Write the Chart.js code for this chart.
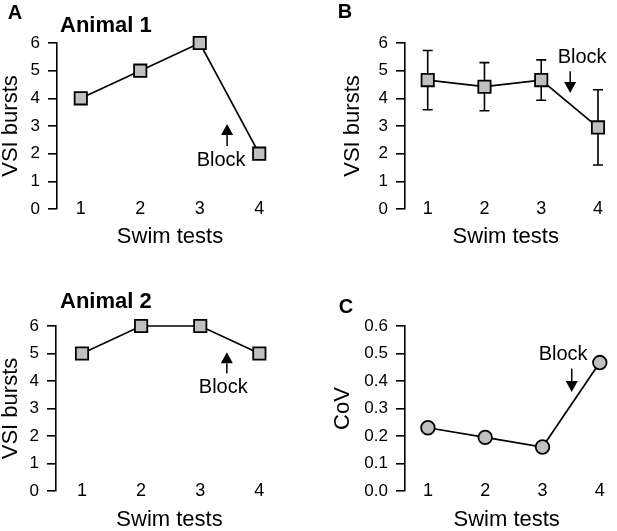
<!DOCTYPE html>
<html><head><meta charset="utf-8">
<script src="https://cdn.jsdelivr.net/npm/chart.js@4/dist/chart.umd.min.js"></script>
<style>
html,body{margin:0;padding:0;background:#fff;overflow:hidden;width:617px;height:531px;}
.p{position:absolute;}
</style></head><body>
<div class="p" style="left:0;top:0;width:300px;height:260px"><canvas id="cA"></canvas></div>
<div class="p" style="left:310px;top:0;width:307px;height:260px"><canvas id="cB"></canvas></div>
<div class="p" style="left:0;top:270px;width:300px;height:270px"><canvas id="cA2"></canvas></div>
<div class="p" style="left:310px;top:270px;width:307px;height:270px"><canvas id="cC"></canvas></div>
<script>
// ---- data ----
const swimTests = [1, 2, 3, 4];
const xTickLabels = ['1', '2', '3', '4'];
const animal1Bursts = [4, 5, 6, 2];
const animal2Bursts = [5, 6, 6, 5];
const meanBursts = [4.66, 4.42, 4.66, 2.95];
const meanBurstsErr = [1.07, 0.87, 0.73, 1.36];
const covValues = [0.23, 0.195, 0.16, 0.467];
const burstTicks = ['0', '1', '2', '3', '4', '5', '6'];
const covTicks = ['0.0', '0.1', '0.2', '0.3', '0.4', '0.5', '0.6'];

const FAM = '"Liberation Sans", Arial, Helvetica, sans-serif';

const overlay = {
  id: 'overlay',
  beforeDatasetsDraw(chart, args, o) {
    if (!o.err) return;
    const {ctx} = chart, xs = chart.scales.x, ys = chart.scales.y;
    ctx.save();
    ctx.strokeStyle = '#000'; ctx.lineWidth = 1.6;
    o.vals.forEach((v, i) => {
      const x = xs.getPixelForValue(swimTests[i]);
      const yt = ys.getPixelForValue(v + o.err[i]);
      const yb = ys.getPixelForValue(v - o.err[i]);
      ctx.beginPath();
      ctx.moveTo(x, yt); ctx.lineTo(x, yb);
      ctx.moveTo(x - 5, yt); ctx.lineTo(x + 5, yt);
      ctx.moveTo(x - 5, yb); ctx.lineTo(x + 5, yb);
      ctx.stroke();
    });
    ctx.restore();
  },
  afterDraw(chart, args, o) {
    const {ctx} = chart, xs = chart.scales.x, ys = chart.scales.y;
    ctx.save();
    ctx.fillStyle = '#000'; ctx.strokeStyle = '#000';
    ctx.textBaseline = 'middle';
    if (o.letter) {
      ctx.font = 'bold 20px ' + FAM; ctx.textAlign = 'center';
      ctx.fillText(o.letter.t, o.letter.x, o.letter.y);
    }
    if (o.title) {
      ctx.font = 'bold 22px ' + FAM; ctx.textAlign = 'left';
      ctx.fillText(o.title.t, o.title.x, o.title.y);
    }
    if (o.block) {
      const b = o.block;
      ctx.font = '20px ' + FAM; ctx.textAlign = 'center';
      ctx.fillText('Block', xs.getPixelForValue(b.tx), ys.getPixelForValue(b.ty));
      const ax = xs.getPixelForValue(b.ax);
      const yTail = ys.getPixelForValue(b.tail), yTip = ys.getPixelForValue(b.tip);
      const dir = yTip < yTail ? -1 : 1;
      const hl = 11, hw = 6;
      ctx.lineWidth = 1.5;
      ctx.beginPath(); ctx.moveTo(ax, yTail); ctx.lineTo(ax, yTip - dir * hl); ctx.stroke();
      ctx.beginPath();
      ctx.moveTo(ax, yTip);
      ctx.lineTo(ax - hw, yTip - dir * hl);
      ctx.lineTo(ax + hw, yTip - dir * hl);
      ctx.closePath(); ctx.fill();
    }
    ctx.restore();
  }
};

function panel(id, p) {
  new Chart(document.getElementById(id), {
    type: 'line',
    data: {
      datasets: [{
        data: swimTests.map((x, i) => ({x, y: p.vals[i]})),
        borderColor: '#000', borderWidth: 1.7,
        pointStyle: p.style, pointRadius: p.radius, pointHoverRadius: p.radius,
        pointBackgroundColor: '#c0c0c0', pointBorderColor: '#000', pointBorderWidth: 1.8,
        tension: 0, clip: false, fill: false
      }]
    },
    options: {
      responsive: true, maintainAspectRatio: false, animation: false, events: [],
      layout: {padding: p.pad},
      plugins: {legend: {display: false}, tooltip: {enabled: false}, overlay: p.ov},
      scales: {
        x: {
          type: 'linear', min: p.xmin, max: p.xmax,
          afterBuildTicks: s => { s.ticks = swimTests.map(v => ({value: v})); },
          afterFit: s => { s.height = p.xh; },
          border: {display: false},
          grid: {display: false, drawTicks: false},
          ticks: {font: {size: 18, family: FAM, lineHeight: 1}, color: '#000', padding: -9, mirror: true,
                  maxRotation: 0, autoSkip: false,
                  callback: (v, i) => xTickLabels[i]},
          title: {display: true, text: 'Swim tests', color: '#000',
                  font: {size: 22, family: FAM, lineHeight: 1}, padding: {top: 0, bottom: p.xtp}}
        },
        y: {
          type: 'linear', min: 0, max: p.ymax,
          afterBuildTicks: s => { s.ticks = p.yLabels.map(l => ({value: parseFloat(l)})); },
          afterFit: s => { s.width = p.yw; },
          border: {display: true, color: '#000', width: 1.6},
          grid: {drawOnChartArea: false, drawTicks: true, tickLength: 9, color: '#000', lineWidth: 1.6},
          ticks: {font: {size: 17, family: FAM, lineHeight: 1}, color: '#000', padding: 8,
                  autoSkip: false, callback: (v, i) => p.yLabels[i]},
          title: {display: true, text: p.yTitle, color: '#000',
                  font: {size: 22, family: FAM, lineHeight: 1}, padding: {top: p.ytp, bottom: 0}}
        }
      }
    },
    plugins: [overlay]
  });
}

panel('cA', {
  vals: animal1Bursts, style: 'rect', radius: 8.7, xmin: 0.6, xmax: 4.4, ymax: 6, yLabels: burstTicks,
  pad: {top: 43, right: 17, left: 0, bottom: 0}, yw: 57, xh: 51, xtp: 12, ytp: 0, yTitle: 'VSI bursts',
  ov: {letter: {t: 'A', x: 15, y: 13}, title: {t: 'Animal 1', x: 60, y: 26},
       block: {tx: 3.36, ty: 1.77, ax: 3.46, tail: 2.28, tip: 3.07}}
});
panel('cB', {
  vals: meanBursts, style: 'rect', radius: 8.7, xmin: 0.6, xmax: 4.15, ymax: 6, yLabels: burstTicks,
  pad: {top: 43, right: 0, left: 0, bottom: 0}, yw: 95, xh: 51, xtp: 12, ytp: 32, yTitle: 'VSI bursts',
  ov: {err: meanBurstsErr, vals: meanBursts, letter: {t: 'B', x: 35, y: 12},
       block: {tx: 3.72, ty: 5.46, ax: 3.51, tail: 4.98, tip: 4.19}}
});
panel('cA2', {
  vals: animal2Bursts, style: 'rect', radius: 8.7, xmin: 0.56, xmax: 4.4, ymax: 6, yLabels: burstTicks,
  pad: {top: 56, right: 17, left: 0, bottom: 0}, yw: 56, xh: 49, xtp: 9, ytp: 0, yTitle: 'VSI bursts',
  ov: {title: {t: 'Animal 2', x: 60, y: 32},
       block: {tx: 3.39, ty: 3.78, ax: 3.45, tail: 4.27, tip: 5.05}}
});
panel('cC', {
  vals: covValues, style: 'circle', radius: 6.8, xmin: 0.6, xmax: 4.15, ymax: 0.6, yLabels: covTicks,
  pad: {top: 56, right: 0, left: 0, bottom: 0}, yw: 95, xh: 49, xtp: 9, ytp: 22, yTitle: 'CoV',
  ov: {letter: {t: 'C', x: 36, y: 37},
       block: {tx: 3.36, ty: 0.495, ax: 3.51, tail: 0.445, tip: 0.36}}
});
</script>
</body></html>
